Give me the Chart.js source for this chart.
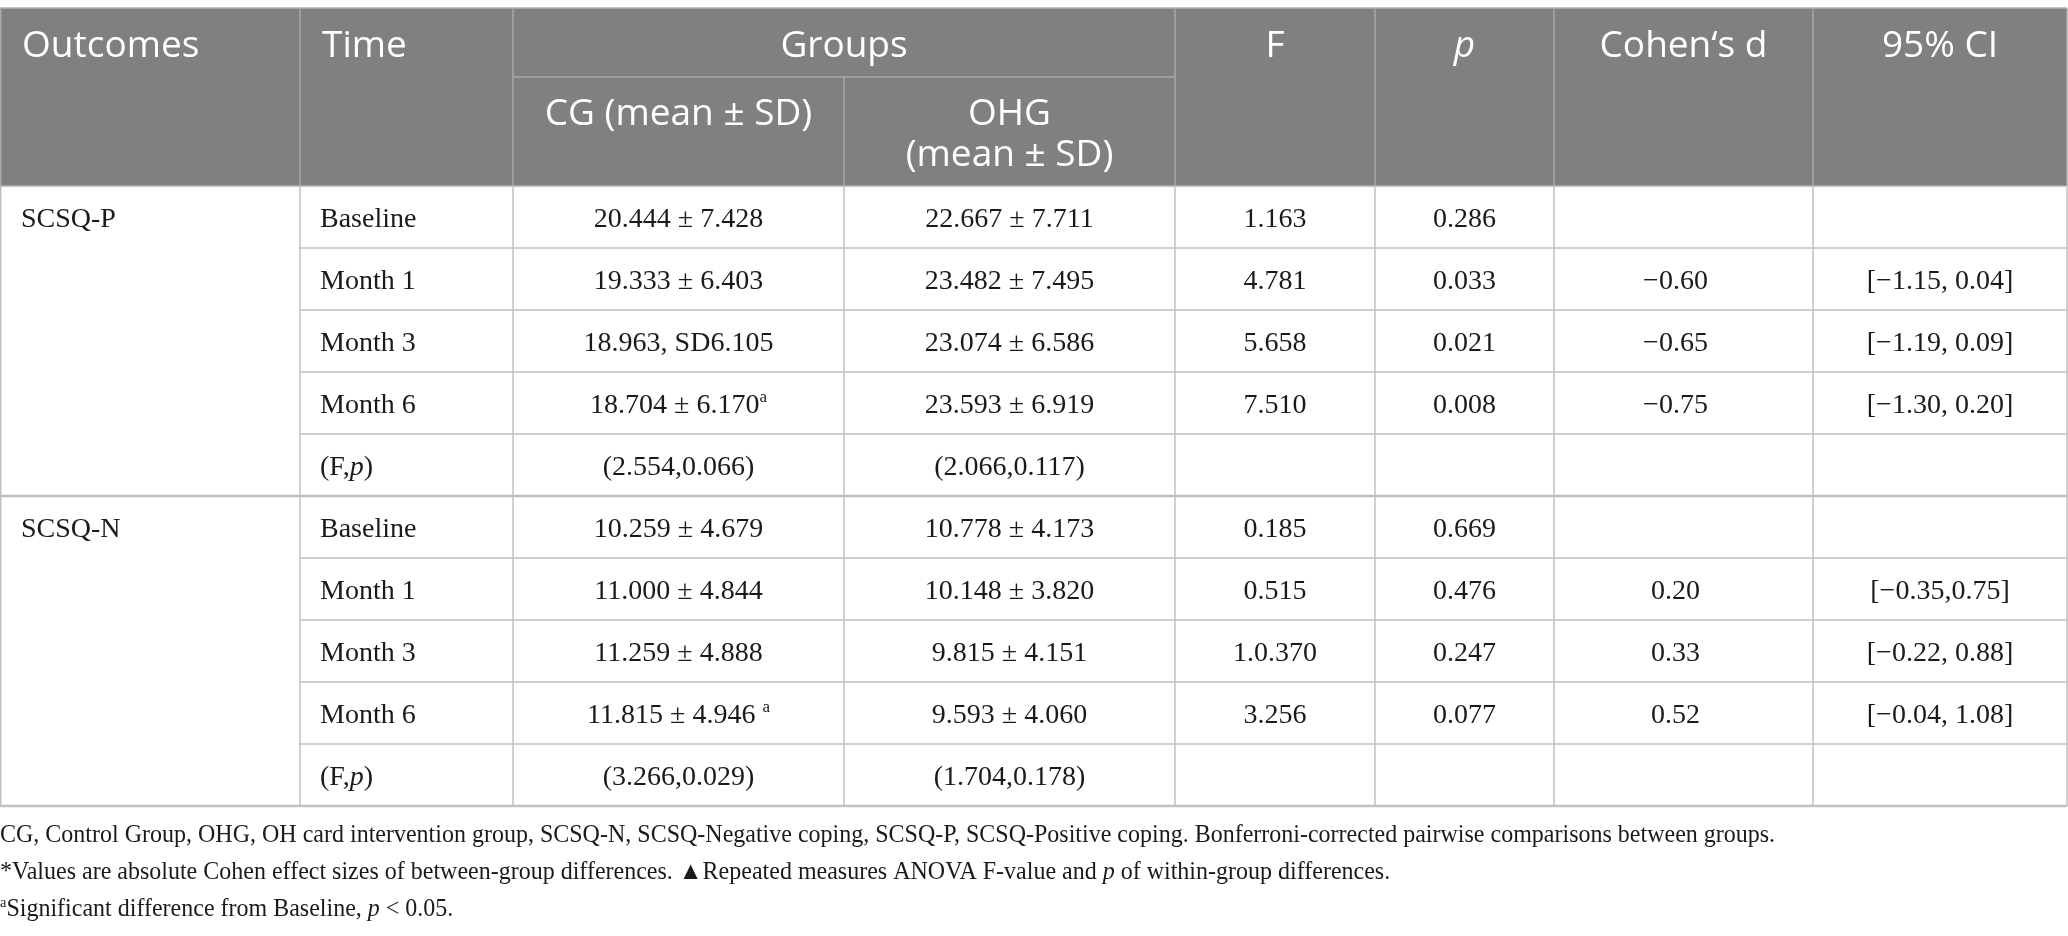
<!DOCTYPE html>
<html>
<head>
<meta charset="utf-8">
<script src="https://cdn.jsdelivr.net/npm/chart.js@4.4.1/dist/chart.umd.min.js"></script>
<style>
  html, body { margin: 0; padding: 0; background: #ffffff; }
  #wrap { width: 2068px; height: 936px; position: relative; }
</style>
</head>
<body>
<div id="wrap"><canvas id="c" width="2068" height="936"></canvas></div>
<script>
// ---------------- DATA ----------------
const outcomes   = ["SCSQ-P", "SCSQ-N"];
const timePoints = ["Baseline", "Month 1", "Month 3", "Month 6", "(F,_p_)"];
const cgValues   = ["20.444 ± 7.428", "19.333 ± 6.403", "18.963, SD6.105", "18.704 ± 6.170^a", "(2.554,0.066)",
                    "10.259 ± 4.679", "11.000 ± 4.844", "11.259 ± 4.888", "11.815 ± 4.946 ^a", "(3.266,0.029)"];
const ohgValues  = ["22.667 ± 7.711", "23.482 ± 7.495", "23.074 ± 6.586", "23.593 ± 6.919", "(2.066,0.117)",
                    "10.778 ± 4.173", "10.148 ± 3.820", "9.815 ± 4.151", "9.593 ± 4.060", "(1.704,0.178)"];
const fValues    = ["1.163", "4.781", "5.658", "7.510", "", "0.185", "0.515", "1.0.370", "3.256", ""];
const pValues    = ["0.286", "0.033", "0.021", "0.008", "", "0.669", "0.476", "0.247", "0.077", ""];
const cohensD    = ["", "−0.60", "−0.65", "−0.75", "", "", "0.20", "0.33", "0.52", ""];
const ci95       = ["", "[−1.15, 0.04]", "[−1.19, 0.09]", "[−1.30, 0.20]", "", "", "[−0.35,0.75]", "[−0.22, 0.88]", "[−0.04, 1.08]", ""];
const headerTop  = ["Outcomes", "Time", "Groups", "F", "_p_", "Cohen‘s d", "95% CI"];
const headerSub  = ["CG (mean ± SD)", "OHG\n(mean ± SD)"];
const footnotes  = [
  "CG, Control Group, OHG, OH card intervention group, SCSQ-N, SCSQ-Negative coping, SCSQ-P, SCSQ-Positive coping. Bonferroni-corrected pairwise comparisons between groups.",
  "*Values are absolute Cohen effect sizes of between-group differences. ▲Repeated measures ANOVA F-value and _p_ of within-group differences.",
  "^aSignificant difference from Baseline, _p_ < 0.05."
];

// ---------------- LAYOUT / STYLE ----------------
const colEdges = [0, 300, 513, 844, 1175, 1375, 1554, 1813, 2067];
const colAlign = ["left", "left", "center", "center", "center", "center", "center", "center"];
const colShift = [0, 0, 0, 0, 0, 0, -8, 0];
const HEADER_BG = "#808080";
const HEADER_LINE = "#a8a8a8";
const BODY_LINE = "#c0c0c0";
const SERIF = '"Liberation Serif", "DejaVu Serif", serif';
const SANS = '"Open Sans", "Noto Sans", sans-serif';

// rows built from outcomes x timePoints
const rowKeys = [];
const rowOutcome = [];
const rowTime = [];
outcomes.forEach((o, oi) => timePoints.forEach((t, ti) => {
  rowKeys.push(o + "|" + t);
  rowOutcome.push(ti === 0 ? o : "");
  rowTime.push(t);
}));
const columnSources = [rowOutcome, rowTime, cgValues, ohgValues, fValues, pValues, cohensD, ci95];

// ---------------- rich text ----------------
function segs(str) {
  const out = []; let it = false;
  for (let i = 0; i < str.length; i++) {
    const c = str[i];
    if (c === "_") { it = !it; continue; }
    if (c === "^") { out.push({ t: str[i + 1], it, sup: true }); i++; continue; }
    const last = out[out.length - 1];
    if (last && last.it === it && !last.sup) last.t += c; else out.push({ t: c, it, sup: false });
  }
  return out;
}
function fontOf(s, size, family) {
  const sz = s.sup ? Math.round(size * 0.6) : size;
  return (s.it ? "italic " : "") + sz + "px " + family;
}
function drawRich(ctx, str, x, y, align, size, family, sx, color) {
  const ss = segs(str); let w = 0;
  ss.forEach(s => { ctx.font = fontOf(s, size, family); s.w = ctx.measureText(s.t).width; w += s.w; });
  ctx.save();
  ctx.translate(x, y); ctx.scale(sx, 1);
  let cx = align === "center" ? -w / 2 : (align === "right" ? -w : 0);
  ctx.fillStyle = color; ctx.textBaseline = "alphabetic"; ctx.textAlign = "left";
  ss.forEach(s => { ctx.font = fontOf(s, size, family); ctx.fillText(s.t, cx, s.sup ? -size * 0.38 : 0); cx += s.w; });
  ctx.restore();
}
function hline(ctx, x1, x2, y, color, lw) {
  ctx.save(); ctx.strokeStyle = color; ctx.lineWidth = lw;
  ctx.beginPath(); ctx.moveTo(x1, y); ctx.lineTo(x2, y); ctx.stroke(); ctx.restore();
}
function vline(ctx, x, y1, y2, color, lw) {
  ctx.save(); ctx.strokeStyle = color; ctx.lineWidth = lw;
  ctx.beginPath(); ctx.moveTo(x, y1); ctx.lineTo(x, y2); ctx.stroke(); ctx.restore();
}

// ---------------- table plugin ----------------
const tablePlugin = {
  id: "tablePlugin",
  beforeDraw(chart) {
    const ctx = chart.ctx;
    ctx.save(); ctx.fillStyle = "#ffffff"; ctx.fillRect(0, 0, chart.width, chart.height); ctx.restore();
  },
  afterDatasetsDraw(chart) {
    const ctx = chart.ctx;
    const xs = chart.scales.x, ys = chart.scales.y;
    const X = v => xs.getPixelForValue(v);
    const Yb = k => ys.getPixelForValue(k - 0.5); // boundary above row k
    const top = chart.chartArea.top, bottom = chart.chartArea.bottom;
    const hTop = top - 178, hMid = top - 109;

    // header background
    ctx.save(); ctx.fillStyle = HEADER_BG;
    ctx.fillRect(X(colEdges[0]), hTop, X(colEdges[8]) - X(colEdges[0]), top - hTop); ctx.restore();
    hline(ctx, X(colEdges[0]), X(colEdges[8]), hTop, "#b4b4b4", 1.5);
    [0, 1, 2, 4, 5, 6, 7, 8].forEach(i => vline(ctx, X(colEdges[i]) + (i === 0 ? 0.75 : 0), hTop, top, HEADER_LINE, 1.5));
    vline(ctx, X(colEdges[3]), hMid, top, HEADER_LINE, 1.5);
    hline(ctx, X(colEdges[2]), X(colEdges[4]), hMid, HEADER_LINE, 1.5);
    hline(ctx, X(colEdges[0]), X(colEdges[8]), top, "#b0b0b0", 1.5);

    // header text
    const hb1 = top - 129;
    const hSpans = [[0, 1, "left"], [1, 2, "left"], [2, 4, "center"], [4, 5, "center"], [5, 6, "center"], [6, 7, "center"], [7, 8, "center"]];
    headerTop.forEach((t, i) => {
      const [a, b, al] = hSpans[i];
      const x = al === "left" ? X(colEdges[a]) + 22 : (X(colEdges[a]) + X(colEdges[b])) / 2;
      drawRich(ctx, t, x, hb1, al, 37, SANS, 1, "#ffffff");
    });
    headerSub.forEach((t, i) => {
      const a = 2 + i;
      const cx = (X(colEdges[a]) + X(colEdges[a + 1])) / 2;
      t.split("\n").forEach((line, li) => drawRich(ctx, line, cx, top - 61 + li * 41, "center", 37, SANS, 1, "#ffffff"));
    });

    // body grid
    for (let i = 0; i < colEdges.length; i++) {
      vline(ctx, X(colEdges[i]) + (i === 0 ? 0.75 : 0), top, bottom, BODY_LINE, 1.5);
    }
    for (let k = 1; k < rowKeys.length; k++) {
      if (k % timePoints.length === 0) hline(ctx, X(colEdges[0]), X(colEdges[8]), Yb(k), BODY_LINE, 2.5);
      else hline(ctx, X(colEdges[1]), X(colEdges[8]), Yb(k), BODY_LINE, 1.5);
    }
    hline(ctx, X(colEdges[0]), X(colEdges[8]), bottom, BODY_LINE, 2.5);

    // body text (positioned from dataset elements)
    chart.data.datasets.forEach((ds, ci) => {
      const meta = chart.getDatasetMeta(ci);
      const src = columnSources[ci];
      meta.data.forEach((el, ri) => {
        const txt = src[ri];
        if (!txt) return;
        const al = colAlign[ci];
        const x = al === "left" ? X(colEdges[ci]) + (ci === 0 ? 21 : 20) : el.x + colShift[ci];
        drawRich(ctx, txt, x, el.y + 10, al, 28, SERIF, 1, "#1a1a1a");
      });
    });

    // footnotes
    footnotes.forEach((f, i) => drawRich(ctx, f, X(colEdges[0]), bottom + 36 + i * 37, "left", 25, SERIF, 0.96, "#1a1a1a"));
  }
};

// ---------------- chart ----------------
const datasets = columnSources.map((src, ci) => ({
  label: "col" + ci,
  data: rowKeys.map((rk, ri) => ({ x: (colEdges[ci] + colEdges[ci + 1]) / 2, y: rk })),
  pointRadius: 0,
  pointHoverRadius: 0,
  showLine: false
}));

new Chart(document.getElementById("c"), {
  type: "scatter",
  data: { datasets },
  options: {
    responsive: false,
    devicePixelRatio: 1,
    animation: false,
    events: [],
    layout: { padding: { top: 186, bottom: 130, left: 0, right: 1 } },
    plugins: { legend: { display: false }, tooltip: { enabled: false } },
    scales: {
      x: { type: "linear", min: colEdges[0], max: colEdges[8], display: false },
      y: { type: "category", labels: rowKeys, offset: true, display: false }
    }
  },
  plugins: [tablePlugin]
});
</script>
</body>
</html>
